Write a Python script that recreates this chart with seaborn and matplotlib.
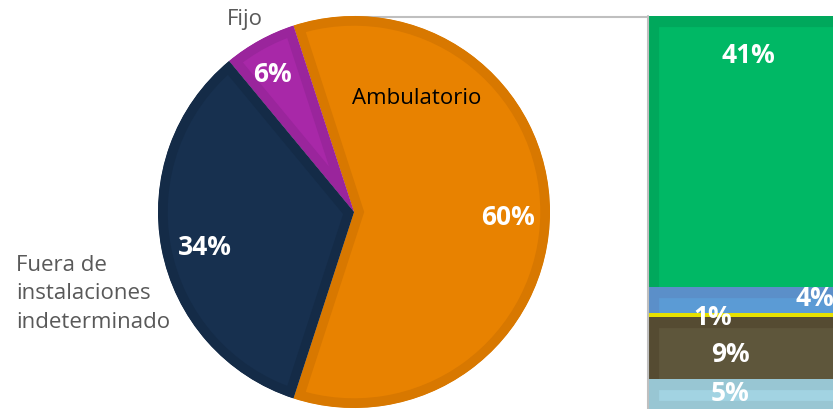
import numpy as np
import seaborn as sns
import matplotlib.pyplot as plt

# Datos del gráfico
pie_labels = ["Ambulatorio", "Fijo", "Fuera de\ninstalaciones\nindeterminado"]
pie_values = [60, 6, 34]
pie_fill = ["#E88200", "#A828A8", "#17304F"]
pie_edge = ["#D87800", "#9A259C", "#142B47"]

bar_values = [5.0, 9.4, 0.6, 4.0, 41.0]          # de abajo hacia arriba
bar_fill = ["#A2D3E2", "#5E563B", "#E6E000", "#5B9BD5", "#00B865"]
bar_edge = ["#98C6D3", "#554B32", "#E6E000", "#5B8FC9", "#00A85C"]

sns.set_theme(style="white")
plt.rcParams['font.family'] = ['Open Sans', 'DejaVu Sans']

W, H = 833, 410
fig = plt.figure(figsize=(W / 100, H / 100), dpi=100)

# ejes en pixeles para el pastel
ax1 = fig.add_axes([0, 0, 1, 1])
cx, cy, r = 354, H - 213, 196
wedges, _ = ax1.pie(pie_values, colors=pie_fill, startangle=-108, counterclock=True,
                    center=(cx, cy), radius=r,
                    wedgeprops=dict(linewidth=14, edgecolor="none"))
for w, ec in zip(wedges, pie_edge):
    w.set_edgecolor(ec)
    w.set_clip_on(True)
    w.set_clip_path(w)
ax1.set_xlim(0, W)
ax1.set_ylim(0, H)
ax1.set_aspect('auto')
ax1.axis('off')

# línea de conexión hacia la barra
bar_left = 648
ax1.plot([cx, bar_left], [cy + r - 1, cy + r - 1], color="#BFBFBF", lw=1.5, zorder=0)

# etiquetas del pastel
gray = "#595959"
ax1.text(417, H - 99, pie_labels[0], color="black", fontsize=16, ha="center", va="center")
ax1.text(245, H - 20, pie_labels[1], color=gray, fontsize=16, ha="center", va="center")
ax1.text(16, H - 294, pie_labels[2], color=gray, fontsize=16, ha="left", va="center",
         linespacing=1.45)
pct_pos = [(508, 218), (272, 74), (205, 248)]
for v, (px, py) in zip(pie_values, pct_pos):
    ax1.text(px, H - py, f"{v}%", color="white", fontsize=19, fontweight="bold",
             ha="center", va="center")

# barra apilada (se sale del recuadro como en el original)
total = sum(bar_values)
ax2 = fig.add_axes([bar_left / W, -3 / H, 200 / W, 396 / H])
cum = np.cumsum(bar_values)
for i in range(len(bar_values) - 1, -1, -1):
    sns.barplot(x=[0], y=[cum[i]], color=bar_fill[i], saturation=1, width=0.8,
                edgecolor=bar_edge[i], linewidth=16, ax=ax2)
for p in ax2.patches:
    p.set_clip_path(p)
ax2.set_xlim(-0.4, 0.4)
ax2.set_ylim(0, total)
ax2.axis('off')
ax2.axvline(-0.4, color="#BFBFBF", lw=1.5, clip_on=False)

# etiquetas de la barra: desplazamiento x en unidades de barra, y en %
lab_pos = [(-0.072, 3.0), (-0.072, 8.8), (-0.14, 14.4), (0.268, 17.4), (0.0, 54.2)]
for v, (lx, ly) in zip(bar_values, lab_pos):
    ax2.text(lx, ly, f"{v:.0f}%", color="white", fontsize=19, fontweight="bold",
             ha="center", va="center", clip_on=False)

fig.savefig("out.png", dpi=100)
